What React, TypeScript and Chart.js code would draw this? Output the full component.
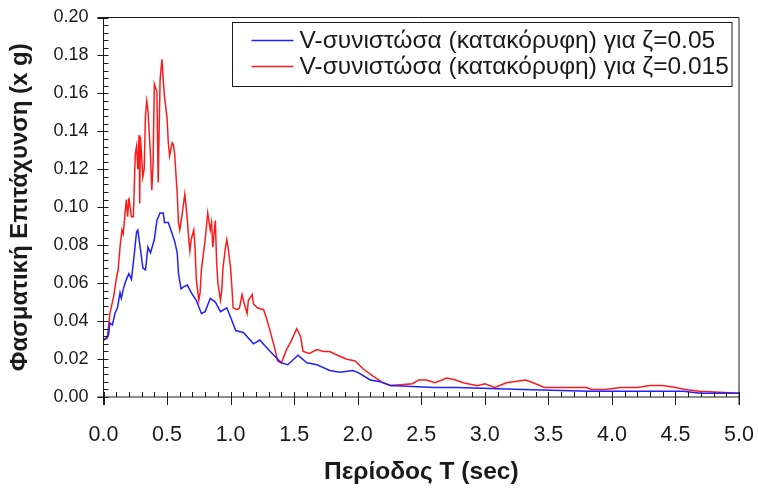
import React, { useEffect, useRef } from "react";
import { Chart, registerables } from "chart.js";

Chart.register(...registerables);

// Response spectrum, vertical component, damping ζ = 0.05
const periodsZ005 = [
  0.0, 0.02, 0.04, 0.05, 0.07, 0.09, 0.11, 0.13, 0.14, 0.16, 0.18, 0.2, 0.22, 0.24, 0.26, 0.27,
  0.29, 0.31, 0.33, 0.35, 0.37, 0.4, 0.42, 0.445, 0.47, 0.48, 0.51, 0.54, 0.56, 0.58, 0.59, 0.61,
  0.63, 0.66, 0.69, 0.73, 0.77, 0.8, 0.84, 0.88, 0.92, 0.97, 1.0, 1.04, 1.1, 1.18, 1.23, 1.27,
  1.34, 1.4, 1.45, 1.53, 1.6, 1.68, 1.78, 1.86, 1.96, 2.0, 2.1, 2.18, 2.26, 2.6, 2.78, 3.3, 3.83,
  4.56, 4.7, 5.0,
];
const accelZ005 = [
  0.03, 0.031, 0.033, 0.039, 0.038, 0.044, 0.047, 0.055, 0.052, 0.058, 0.062, 0.065, 0.062, 0.074,
  0.087, 0.088, 0.078, 0.068, 0.067, 0.079, 0.076, 0.083, 0.093, 0.097, 0.097, 0.092, 0.092, 0.086,
  0.082, 0.076, 0.065, 0.057, 0.058, 0.059, 0.055, 0.051, 0.044, 0.045, 0.052, 0.05, 0.045, 0.047,
  0.042, 0.035, 0.034, 0.028, 0.03, 0.027, 0.022, 0.018, 0.017, 0.022, 0.018, 0.017, 0.014, 0.013,
  0.014, 0.013, 0.009, 0.008, 0.006, 0.005, 0.005, 0.004, 0.003, 0.003, 0.002, 0.002,
];

// Response spectrum, vertical component, damping ζ = 0.015
const periodsZ0015 = [
  0.0, 0.03, 0.05, 0.08, 0.1, 0.115, 0.13, 0.145, 0.155, 0.17, 0.18, 0.19, 0.2, 0.22, 0.235, 0.25,
  0.26, 0.27, 0.28, 0.285, 0.29, 0.31, 0.32, 0.33, 0.34, 0.35, 0.37, 0.38, 0.39, 0.4, 0.42, 0.43,
  0.445, 0.46, 0.47, 0.48, 0.5, 0.51, 0.52, 0.54, 0.55, 0.56, 0.58, 0.59, 0.6, 0.62, 0.64, 0.66,
  0.67, 0.68, 0.69, 0.71, 0.72, 0.73, 0.75, 0.76, 0.77, 0.8, 0.82, 0.84, 0.85, 0.86, 0.88, 0.89,
  0.9, 0.92, 0.93, 0.94, 0.96, 0.97, 0.98, 1.0, 1.01, 1.02, 1.05, 1.07, 1.09, 1.1, 1.13, 1.14,
  1.17, 1.18, 1.21, 1.26, 1.28, 1.31, 1.35, 1.37, 1.4, 1.44, 1.48, 1.52, 1.55, 1.57, 1.62, 1.68,
  1.73, 1.78, 1.84, 1.91, 1.98, 2.04, 2.12, 2.2, 2.26, 2.43, 2.48, 2.54, 2.61, 2.7, 2.77, 2.83,
  2.94, 3.0, 3.08, 3.17, 3.32, 3.38, 3.47, 3.8, 3.84, 3.95, 4.07, 4.2, 4.3, 4.4, 4.5, 4.58, 4.69,
  5.0,
];
const accelZ0015 = [
  0.03, 0.031, 0.044, 0.053, 0.062, 0.067, 0.079, 0.088, 0.086, 0.097, 0.104, 0.095, 0.105, 0.095,
  0.095, 0.128, 0.132, 0.12, 0.138, 0.102, 0.137, 0.116, 0.12, 0.148, 0.156, 0.151, 0.127, 0.109,
  0.123, 0.165, 0.161, 0.113, 0.167, 0.178, 0.167, 0.158, 0.147, 0.134, 0.127, 0.134, 0.133, 0.128,
  0.107, 0.092, 0.088, 0.097, 0.107, 0.093, 0.084, 0.077, 0.083, 0.088, 0.079, 0.062, 0.051, 0.055,
  0.067, 0.083, 0.097, 0.088, 0.092, 0.079, 0.093, 0.071, 0.06, 0.051, 0.056, 0.068, 0.079, 0.083,
  0.079, 0.068, 0.058, 0.047, 0.046, 0.047, 0.054, 0.051, 0.044, 0.051, 0.054, 0.049, 0.047, 0.046,
  0.042, 0.035, 0.025, 0.019, 0.018, 0.025, 0.03, 0.036, 0.032, 0.024, 0.023, 0.025, 0.024, 0.024,
  0.022, 0.02, 0.019, 0.015, 0.011, 0.0075, 0.006, 0.007, 0.009, 0.009, 0.0075, 0.01, 0.009, 0.0075,
  0.006, 0.007, 0.005, 0.0075, 0.009, 0.0075, 0.005, 0.005, 0.004, 0.004, 0.005, 0.005, 0.006, 0.006,
  0.005, 0.004, 0.003, 0.002,
];

const seriesLabels = [
  "V-συνιστώσα (κατακόρυφη) για ζ=0.05",
  "V-συνιστώσα (κατακόρυφη) για ζ=0.015",
];
const seriesColors = ["#1f1fff", "#ff1a1a"];

const xTickValues = [0, 0.5, 1.0, 1.5, 2.0, 2.5, 3.0, 3.5, 4.0, 4.5, 5.0];
const yTickValues = [0, 0.02, 0.04, 0.06, 0.08, 0.1, 0.12, 0.14, 0.16, 0.18, 0.2];
const xMinorStep = 0.1;
const yMinorStep = 0.004;

const xTitle = "Περίοδος T (sec)";
const yTitle = "Φασματική Επιτάχυνση (x g)";

const FONT = "'Liberation Sans', Arial, Helvetica, sans-serif";
const INK = "#1a1a1a";

// Axis lines, frame and tick marks (major ticks cross the axis, minor ticks point inward)
const frameAndTicks = {
  id: "frameAndTicks",
  afterDatasetsDraw(chart: any) {
    const { ctx, chartArea, scales } = chart;
    const { left, right, top, bottom } = chartArea;
    const xs = scales.x;
    const ys = scales.y;
    ctx.save();
    ctx.strokeStyle = INK;
    ctx.lineWidth = 1;
    ctx.beginPath();
    // y axis
    ctx.moveTo(left, top);
    ctx.lineTo(left, bottom + 8);
    // x axis
    ctx.moveTo(left - 6, bottom);
    ctx.lineTo(right, bottom);
    // top border
    ctx.moveTo(left - 6, top);
    ctx.lineTo(right, top);
    // right border
    ctx.moveTo(right, top);
    ctx.lineTo(right, bottom + 8);

    for (const v of yTickValues) {
      const p = Math.round(ys.getPixelForValue(v)) + 0.5;
      ctx.moveTo(left - 6, p);
      ctx.lineTo(left + 5, p);
    }
    for (let i = 1; i < Math.round(0.2 / yMinorStep); i++) {
      if (i % 5 === 0) continue;
      const p = Math.round(ys.getPixelForValue(i * yMinorStep)) + 0.5;
      ctx.moveTo(left, p);
      ctx.lineTo(left + 5, p);
    }
    for (const v of xTickValues) {
      const p = Math.round(xs.getPixelForValue(v)) + 0.5;
      ctx.moveTo(p, bottom - 5);
      ctx.lineTo(p, bottom + 8);
    }
    for (let i = 1; i < Math.round(5 / xMinorStep); i++) {
      if (i % 5 === 0) continue;
      const p = Math.round(xs.getPixelForValue(i * xMinorStep)) + 0.5;
      ctx.moveTo(p, bottom - 5);
      ctx.lineTo(p, bottom);
    }
    ctx.stroke();
    ctx.restore();
  },
};

// Boxed legend in the upper right of the plot
const boxedLegend = {
  id: "boxedLegend",
  afterDatasetsDraw(chart: any) {
    const { ctx, chartArea } = chart;
    const boxRight = chartArea.right - 7;
    const boxLeft = chartArea.left + 129;
    const boxTop = chartArea.top + 5;
    const rowH = 26;
    const boxH = 64;
    ctx.save();
    ctx.fillStyle = "#ffffff";
    ctx.fillRect(boxLeft, boxTop, boxRight - boxLeft, boxH);
    ctx.strokeStyle = INK;
    ctx.lineWidth = 1;
    ctx.strokeRect(boxLeft, boxTop, boxRight - boxLeft, boxH);
    ctx.font = `24.5px ${FONT}`;
    ctx.textBaseline = "middle";
    ctx.textAlign = "left";
    chart.data.datasets.forEach((ds: any, i: number) => {
      const y = boxTop + 18 + i * rowH;
      ctx.strokeStyle = ds.borderColor;
      ctx.lineWidth = 1.5;
      ctx.beginPath();
      ctx.moveTo(boxLeft + 19, y);
      ctx.lineTo(boxLeft + 61, y);
      ctx.stroke();
      ctx.fillStyle = INK;
      ctx.fillText(ds.label, boxLeft + 67, y + 1);
    });
    ctx.restore();
  },
};

function toPoints(xs: number[], ys: number[]) {
  return xs.map((x, i) => ({ x, y: ys[i] }));
}

function clearScalePadding(s: any) {
  s.paddingLeft = 0;
  s.paddingRight = 0;
  s.paddingTop = 0;
  s.paddingBottom = 0;
}

export default function App() {
  const canvasRef = useRef<HTMLCanvasElement | null>(null);

  useEffect(() => {
    document.body.style.margin = "0";
    const canvas = canvasRef.current;
    if (!canvas) return;
    const chart = new Chart(canvas, {
      type: "line",
      data: {
        datasets: [
          {
            label: seriesLabels[0],
            data: toPoints(periodsZ005, accelZ005),
            borderColor: seriesColors[0],
            borderWidth: 1.5,
            pointRadius: 0,
            tension: 0,
            fill: false,
          },
          {
            label: seriesLabels[1],
            data: toPoints(periodsZ0015, accelZ0015),
            borderColor: seriesColors[1],
            borderWidth: 1.5,
            pointRadius: 0,
            tension: 0,
            fill: false,
          },
        ],
      },
      options: {
        responsive: false,
        animation: false,
        events: [],
        layout: { padding: { top: 17.5, right: 19, left: 0, bottom: 0 } },
        plugins: {
          legend: { display: false },
          tooltip: { enabled: false },
        },
        scales: {
          x: {
            type: "linear",
            min: 0,
            max: 5,
            afterFit: (s: any) => {
              s.height = 94;
              clearScalePadding(s);
            },
            afterBuildTicks: (s: any) => {
              s.ticks = xTickValues.map((value) => ({ value }));
            },
            ticks: {
              callback: (v: any) => Number(v).toFixed(1),
              font: { family: FONT, size: 21.5 },
              color: INK,
              padding: 25,
              maxRotation: 0,
            },
            grid: { display: false, drawTicks: false },
            border: { display: false },
            title: {
              display: true,
              text: xTitle,
              font: { family: FONT, size: 24.5, weight: "bold" },
              color: INK,
              padding: { top: 0, bottom: 4 },
            },
          },
          y: {
            type: "linear",
            min: 0,
            max: 0.2,
            afterFit: (s: any) => {
              s.width = 103.5;
              clearScalePadding(s);
            },
            afterBuildTicks: (s: any) => {
              s.ticks = yTickValues.map((value) => ({ value }));
            },
            ticks: {
              callback: (v: any) => Number(v).toFixed(2),
              font: { family: FONT, size: 18 },
              color: INK,
              padding: 15,
            },
            grid: { display: false, drawTicks: false },
            border: { display: false },
            title: {
              display: true,
              text: yTitle,
              font: { family: FONT, size: 24, weight: "bold" },
              color: INK,
              padding: { top: 6, bottom: 0 },
            },
          },
        },
      },
      plugins: [frameAndTicks, boxedLegend],
    });
    return () => chart.destroy();
  }, []);

  return (
    <div style={{ position: "absolute", left: 0, top: 0, width: 758, height: 491, background: "#fff" }}>
      <canvas ref={canvasRef} width={758} height={491} />
    </div>
  );
}
